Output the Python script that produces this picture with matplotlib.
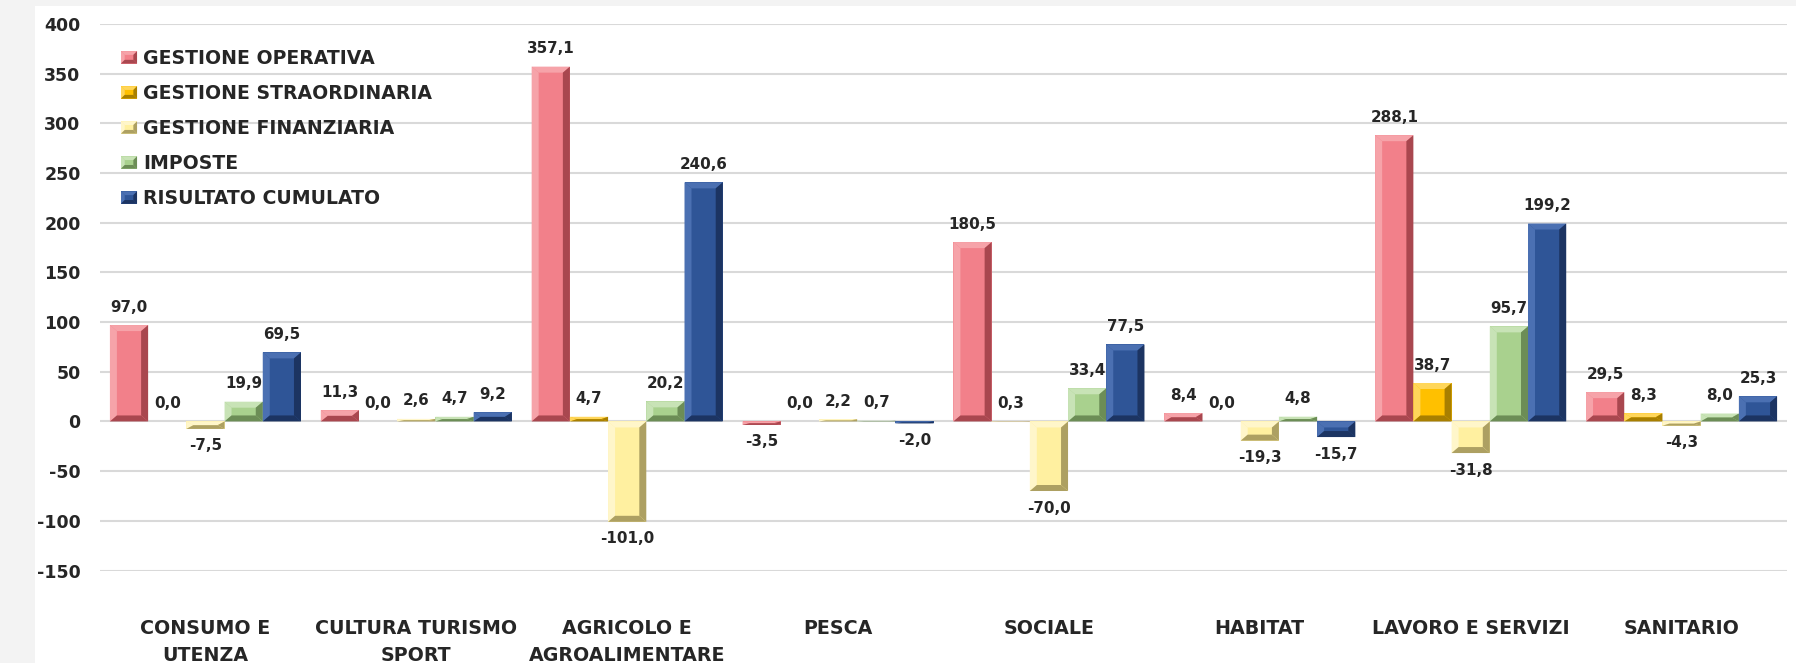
import numpy as np
import matplotlib
matplotlib.use('Agg')
import matplotlib.pyplot as plt
from matplotlib.patches import Polygon, Rectangle
from matplotlib.legend_handler import HandlerPatch

plt.rcParams['font.family'] = ['DejaVu Sans']
plt.rcParams['font.weight'] = 'bold'
plt.rcParams['axes.unicode_minus'] = False

# data
categories = ['CONSUMO E\nUTENZA', 'CULTURA TURISMO\nSPORT', 'AGRICOLO E\nAGROALIMENTARE',
              'PESCA', 'SOCIALE', 'HABITAT', 'LAVORO E SERVIZI', 'SANITARIO']
series_names = ['GESTIONE OPERATIVA', 'GESTIONE STRAORDINARIA', 'GESTIONE FINANZIARIA',
                'IMPOSTE', 'RISULTATO CUMULATO']
operativa = [97.0, 11.3, 357.1, -3.5, 180.5, 8.4, 288.1, 29.5]
straordinaria = [0.0, 0.0, 4.7, 0.0, 0.3, 0.0, 38.7, 8.3]
finanziaria = [-7.5, 2.6, -101.0, 2.2, -70.0, -19.3, -31.8, -4.3]
imposte = [19.9, 4.7, 20.2, 0.7, 33.4, 4.8, 95.7, 8.0]
risultato = [69.5, 9.2, 240.6, -2.0, 77.5, -15.7, 199.2, 25.3]
series = [operativa, straordinaria, finanziaria, imposte, risultato]
y_ticks = [-150, -100, -50, 0, 50, 100, 150, 200, 250, 300, 350, 400]

# (face, light bevel, dark bevel)
palette = [
    ('#F2808A', '#F6A3A9', '#A9474F'),
    ('#FFC000', '#FFD65A', '#A87F00'),
    ('#FFF0A0', '#FFF6CA', '#ADA062'),
    ('#A9D18E', '#C8E3B6', '#6C8D56'),
    ('#2F5597', '#4B70B2', '#1C3462'),
]

W, H = 1796, 663
fig = plt.figure(figsize=(W / 100, H / 100), dpi=100)
fig.patch.set_facecolor('#f3f3f3')
fig.patches.append(Rectangle((35 / W, 0), 1, 1 - 6 / H, transform=fig.transFigure,
                             facecolor='white', edgecolor='none', zorder=-5))

ax = fig.add_axes([100 / W, 1 - 570.5 / H, (1787 - 100) / W, (570.5 - 24) / H])
ax.set_facecolor('none')

n = len(series)
group_w = 0.906
bar_w = group_w / n
x = np.arange(len(categories))

ax.set_xlim(-0.5, len(categories) - 0.5)
ax.set_ylim(-150, 400)

# bevel size in data units (a few pixels)
px_x = 1.0 / (1687 / 8)
px_y = 550 / 546.5
bev_x = 7 * px_x
bev_y = 6 * px_y


def bevel(ax, x0, x1, yb, yt, light, dark):
    bx = min(bev_x, (x1 - x0) / 2)
    by = min(bev_y, (yt - yb) / 2)
    top = [(x0, yt), (x1, yt), (x1 - bx, yt - by), (x0 + bx, yt - by)]
    bot = [(x0, yb), (x1, yb), (x1 - bx, yb + by), (x0 + bx, yb + by)]
    left = [(x0, yb), (x0, yt), (x0 + bx, yt - by), (x0 + bx, yb + by)]
    right = [(x1, yb), (x1, yt), (x1 - bx, yt - by), (x1 - bx, yb + by)]
    for pts, c in ((top, light), (left, light), (bot, dark), (right, dark)):
        ax.add_patch(Polygon(pts, closed=True, facecolor=c, edgecolor='none', zorder=3))


handles = []
for i, (vals, name) in enumerate(zip(series, series_names)):
    face, light, dark = palette[i]
    pos = x - group_w / 2 + bar_w * (i + 0.5)
    bars = ax.bar(pos, vals, width=bar_w, color=face, edgecolor='none', zorder=2, label=name)
    handles.append(bars[0])
    for b, v in zip(bars, vals):
        x0 = b.get_x()
        x1 = x0 + b.get_width()
        yb, yt = min(0, v), max(0, v)
        if yt - yb > 0:
            bevel(ax, x0, x1, yb, yt, light, dark)
        label = f'{v:.1f}'.replace('.', ',')
        off = 18 if v >= 0 else -17
        ax.annotate(label, (x0 + b.get_width() / 2, v), xytext=(0, off),
                    textcoords='offset pixels', ha='center', va='center',
                    fontsize=10.9, fontweight='bold', color='#262626', zorder=5,
                    annotation_clip=False)

ax.set_yticks(y_ticks)
ax.set_xticks(x)
ax.set_xticklabels(categories, fontsize=13.7, fontweight='bold', linespacing=1.5)
ax.tick_params(axis='x', length=0, pad=35, colors='#262626')
ax.tick_params(axis='y', length=0, pad=14, labelsize=12.5, colors='#262626')
for t in ax.get_yticklabels():
    t.set_fontweight('bold')
ax.grid(axis='y', color='#d9d9d9', linewidth=1.5, zorder=0)
ax.set_axisbelow(True)
for s in ax.spines.values():
    s.set_visible(False)


class BevelHandler(HandlerPatch):
    def create_artists(self, legend, orig_handle, xdescent, ydescent, width, height,
                       fontsize, trans):
        idx = handles.index(orig_handle)
        face, light, dark = palette[idx]
        x0, y0 = -xdescent, -ydescent
        x1, y1 = x0 + width, y0 + height
        b = min(width, height) * 0.3
        arts = [Rectangle((x0, y0), width, height, facecolor=face, edgecolor='none',
                          transform=trans)]
        parts = [
            ([(x0, y1), (x1, y1), (x1 - b, y1 - b), (x0 + b, y1 - b)], light),
            ([(x0, y0), (x0, y1), (x0 + b, y1 - b), (x0 + b, y0 + b)], light),
            ([(x0, y0), (x1, y0), (x1 - b, y0 + b), (x0 + b, y0 + b)], dark),
            ([(x1, y0), (x1, y1), (x1 - b, y1 - b), (x1 - b, y0 + b)], dark),
        ]
        for pts, c in parts:
            arts.append(Polygon(pts, closed=True, facecolor=c, edgecolor='none',
                                transform=trans))
        return arts


leg = ax.legend(handles=handles, labels=series_names, loc='upper left',
                bbox_to_anchor=(121 / W, 1 - 49 / H), bbox_transform=fig.transFigure,
                frameon=False, borderpad=0, borderaxespad=0,
                prop={'size': 13.6, 'weight': 'bold'},
                handlelength=0.85, handleheight=0.63, handletextpad=0.32,
                labelspacing=0.85, handler_map={h: BevelHandler() for h in handles})
for t in leg.get_texts():
    t.set_color('#262626')

fig.savefig('out.png', dpi=100, facecolor=fig.get_facecolor())
